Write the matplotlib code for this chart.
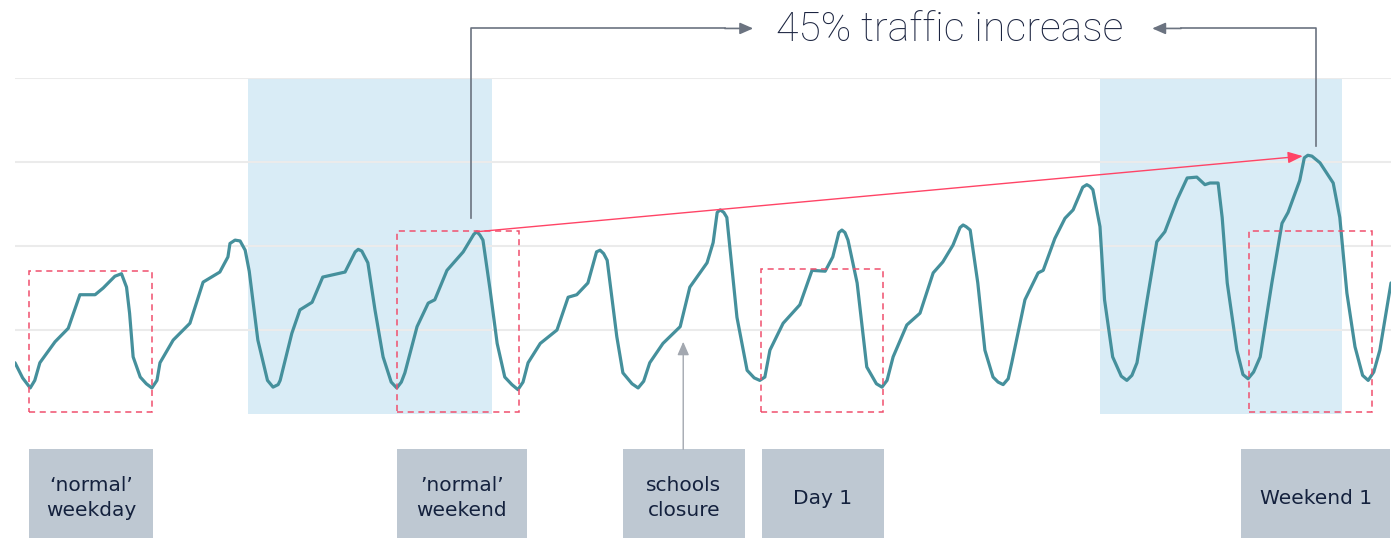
import numpy as np
import matplotlib.pyplot as plt
from matplotlib.patches import Rectangle

# datos: tiempo en horas, trafico en unidades relativas (rejilla cada 100)
hours = [0.0, 1.5, 3.0, 3.9, 4.9, 7.9, 10.5, 12.8, 15.8, 17.4, 19.7, 21.0, 22.0, 22.6, 23.3, 24.7,
         25.9, 27.0, 28.0, 28.6, 31.2, 34.5, 37.1, 40.4, 42.0, 42.4, 43.4, 44.4, 45.4, 46.2, 47.9,
         49.8, 50.9, 51.9, 52.3, 54.6, 56.2, 58.6, 60.7, 65.1, 67.1, 67.7, 68.4, 69.6, 71.0, 72.6,
         74.2, 75.3, 76.2, 76.9, 79.3, 81.5, 82.8, 85.2, 88.4, 90.5, 91.1, 91.7, 92.3, 93.7, 95.1, 96.6,
         98.0, 99.2, 100.2, 101.2, 103.6, 106.9, 109.1, 110.8, 113.0, 114.7, 115.4, 116.1, 116.8, 118.7, 119.9,
         121.7, 122.9, 124.0, 125.2, 127.8, 131.2, 133.1, 136.5, 137.7, 138.5, 139.1, 139.8, 140.4, 142.4, 144.4,
         145.8, 146.9, 147.9, 148.9, 151.5, 154.8, 157.2, 159.8, 161.3, 162.5, 163.1, 163.7, 164.3, 166.1, 168.0,
         169.9, 171.0, 172.0, 173.2, 175.9, 178.5, 181.1, 183.0, 185.0, 186.4, 187.0, 187.6, 188.4, 189.9, 191.3, 192.9,
         193.9, 194.9, 195.9, 196.6, 199.2, 201.8, 202.8, 205.1, 207.1, 208.7, 210.6, 211.4, 212.0, 212.6, 214.0, 214.9, 216.5,
         218.2, 219.3, 220.3, 221.3, 223.3, 225.2, 226.8, 229.2, 231.2, 233.1, 234.7, 235.7, 237.3, 238.1, 239.1, 241.0,
         242.2, 243.2, 244.3, 245.6, 247.9, 249.9, 251.1, 253.4, 254.3, 255.0, 255.8, 257.4, 260.0, 261.3, 262.7, 264.3,
         265.8, 266.9, 268.0, 269.2, 271.4]
traffic = [61, 43, 31, 40, 61, 86, 102, 142, 142, 150, 164, 167, 151, 120, 68, 44,
           36, 31, 40, 61, 88, 108, 157, 169, 187, 203, 207, 206, 195, 170, 88,
           40, 32, 35, 40, 96, 124, 133, 163, 169, 193, 196, 194, 180, 124, 68,
           38, 31, 38, 49, 104, 132, 136, 171, 193, 214, 217, 213, 207, 148, 84, 44,
           35, 29, 38, 61, 84, 100, 139, 142, 156, 193, 195, 191, 183, 92, 49,
           36, 31, 39, 61, 84, 104, 151, 180, 204, 240, 243, 240, 234, 115, 52,
           43, 40, 44, 76, 108, 130, 171, 170, 187, 216, 219, 216, 207, 156, 56,
           36, 32, 40, 68, 106, 120, 168, 181, 201, 222, 225, 223, 219, 156, 76, 44,
           38, 35, 42, 61, 136, 168, 171, 209, 233, 243, 270, 273, 271, 267, 223, 136, 68,
           45, 40, 46, 61, 136, 205, 217, 255, 281, 282, 273, 275, 275, 234, 156, 76,
           47, 42, 50, 68, 156, 227, 240, 278, 305, 308, 307, 299, 275, 234, 144, 80,
           46, 40, 50, 76, 156]

weekends = [(46.0, 94.1), (214.0, 261.7)]
grid_vals = [100, 200, 300, 400]

# recuadros punteados (inicio, fin, techo)
box_x0 = [2.8, 75.3, 147.1, 243.4]
box_x1 = [27.0, 99.4, 171.2, 267.7]
box_top = [170, 218, 173, 218]

labels = ["\u2018normal\u2019\nweekday", "\u2019normal\u2019\nweekend", "schools\nclosure", "Day 1", "Weekend 1"]
lab_x0 = [2.8, 75.3, 119.9, 147.3, 241.9]
lab_x1 = [27.2, 101.0, 144.0, 171.4, 271.2]

fig = plt.figure(figsize=(13.91, 5.38), dpi=100)
ax = fig.add_axes([15/1391, 124/538, 1376/1391, 336/538])
ax.set_xlim(0, 271.4)
ax.set_ylim(0, 400)
ax.axis('off')

for a, b in weekends:
    ax.axvspan(a, b, color='#d9ecf6', lw=0, zorder=0)
for g in grid_vals:
    ax.axhline(g, color='#ebebeb', lw=1.5, zorder=0.5)

ax.plot(hours, traffic, color='#45909c', lw=2.3, zorder=3,
        solid_joinstyle='round', solid_capstyle='round')

for a, b, t in zip(box_x0, box_x1, box_top):
    ax.add_patch(Rectangle((a, 2), b - a, t - 2, fill=False, ec='#f0506e',
                           lw=1.1, ls=(0, (4, 3)), zorder=4))

# flecha roja de fin de semana normal a Weekend 1
ax.annotate('', xy=(254.0, 307), xytext=(91.1, 217),
            arrowprops=dict(arrowstyle='-|>,head_length=0.9,head_width=0.35',
                            color='#ff4466', lw=1.0, shrinkA=0, shrinkB=0), zorder=5)

# llave superior
gc = '#6b7380'
ax.plot([89.9, 89.9, 140], [233, 459, 459], color=gc, lw=1.2, clip_on=False)
ax.annotate('', xy=(145.6, 459), xytext=(140, 459), annotation_clip=False,
            arrowprops=dict(arrowstyle='-|>,head_length=0.8,head_width=0.35',
                            color=gc, lw=1.2, shrinkA=0, shrinkB=0))
ax.plot([256.6, 256.6, 230], [319, 459, 459], color=gc, lw=1.2, clip_on=False)
ax.annotate('', xy=(224.3, 459), xytext=(230, 459), annotation_clip=False,
            arrowprops=dict(arrowstyle='-|>,head_length=0.8,head_width=0.35',
                            color=gc, lw=1.2, shrinkA=0, shrinkB=0))
ax.text(184.3, 457, '45% traffic increase', ha='center', va='center',
        fontsize=29.5, color='#1b2440', family='Roboto', fontweight='light', clip_on=False)

# flecha de cierre de escuelas
ax.annotate('', xy=(131.8, 86), xytext=(131.8, -42), annotation_clip=False,
            arrowprops=dict(arrowstyle='-|>,head_length=0.8,head_width=0.35',
                            color='#a3a8b0', lw=1.0, shrinkA=0, shrinkB=0))

# etiquetas inferiores
for txt, a, b in zip(labels, lab_x0, lab_x1):
    ax.add_patch(Rectangle((a, -148), b - a, 106, fc='#bec8d2', ec='none', clip_on=False))
    ax.text((a + b) / 2, -100, txt, ha='center', va='center', fontsize=14.5,
            color='#14213d', linespacing=1.45, clip_on=False)

fig.savefig('out.png', dpi=100)
